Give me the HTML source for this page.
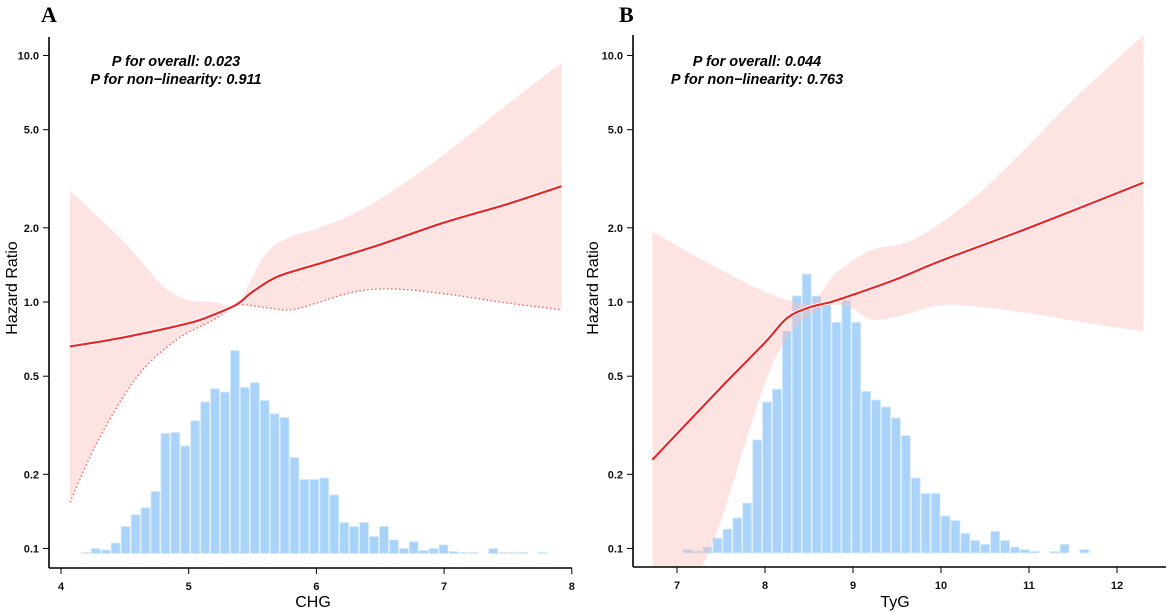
<!DOCTYPE html>
<html><head><meta charset="utf-8">
<style>
html,body{margin:0;padding:0;background:#fff;overflow:hidden;width:1169px;height:614px;}
svg{display:block;overflow:hidden;}
text{font-family:"Liberation Sans",Arial,sans-serif;}
</style></head>
<body>
<svg id="chart" width="1169" height="614" viewBox="0 0 1169 614" xmlns="http://www.w3.org/2000/svg"></svg>
<script>
// ---------- Panel A (CHG) data ----------
const aXTicks = [4,5,6,7,8];
const aYTicks = [0.1,0.2,0.5,1.0,2.0,5.0,10.0];
const aYTickLabels = ["0.1","0.2","0.5","1.0","2.0","5.0","10.0"];
const aHistStart = 4.156;
const aHistWidth = 0.0778;
const aCounts = [1,5,3.5,10.5,27,38.7,45.8,62,120,121,107.6,132.7,151.5,164.8,161.3,203,166,171,153,139.7,136,96,74,74,75.5,58.7,31,27,31,17,27,13.7,5,11.7,3,5,8.6,2,1,1,0,5,1,1,1,0,1];
const aLineX = [4.07,4.5,5.0,5.2,5.38,5.5,5.7,6.0,6.5,7.0,7.5,7.92];
const aLineHR = [0.66,0.72,0.82,0.89,0.98,1.1,1.27,1.42,1.71,2.1,2.5,2.95];
const aUpX = [4.07,4.5,4.8,5.0,5.2,5.38,5.6,5.8,6.0,6.3,6.6,7.0,7.5,7.92];
const aUpHR = [2.83,1.74,1.16,1.02,1.0,0.99,1.56,1.84,1.98,2.29,2.83,3.96,6.36,9.35];
const aLoX = [4.07,4.3,4.6,4.9,5.2,5.38,5.6,5.8,6.0,6.3,6.6,7.0,7.5,7.92];
const aLoHR = [0.154,0.28,0.5,0.7,0.85,0.97,0.95,0.93,0.99,1.1,1.13,1.08,0.99,0.93];

// ---------- Panel B (TyG) data ----------
const bXTicks = [7,8,9,10,11,12];
const bYTicks = [0.1,0.2,0.5,1.0,2.0,5.0,10.0];
const bYTickLabels = ["0.1","0.2","0.5","1.0","2.0","5.0","10.0"];
const bHistStart = 7.065;
const bHistWidth = 0.1127;
const bCounts = [3.5,2,6,15,24,35,50,113,151,164,222,257,279,257,248.6,230.6,252.5,230.6,161.7,153,146,135,117.4,75,59.5,59.5,37,32.5,19.5,12.5,8.6,21.5,12.5,6,3.5,1.5,0,1.5,8.6,0,3.5];
const bLineX = [6.72,7.5,8.0,8.25,8.5,8.75,9.0,9.5,10.0,11.0,12.3];
const bLineHR = [0.229,0.45,0.685,0.86,0.95,1.0,1.07,1.24,1.47,2.0,3.05];
const bUpX = [6.72,7.5,8.0,8.3,8.55,8.8,9.2,9.6,10.0,10.5,11.0,11.5,12.3];
const bUpHR = [1.93,1.35,1.1,1.01,1.0,1.3,1.62,1.74,2.09,2.9,4.33,6.6,12.1];
const bLoX = [6.72,7.0,7.27,7.5,7.75,8.0,8.25,8.5,8.75,9.0,9.2,9.5,10.0,10.5,11.0,11.5,12.3];
const bLoHR = [0.075,0.078,0.084,0.13,0.25,0.47,0.72,0.88,0.97,0.94,0.85,0.87,0.97,0.95,0.9,0.84,0.76];

const NS = "http://www.w3.org/2000/svg";
const svg = document.getElementById("chart");
function mk(tag, attrs, parent){
  const e = document.createElementNS(NS, tag);
  for (const k in attrs) e.setAttribute(k, attrs[k]);
  (parent||svg).appendChild(e);
  return e;
}
function smoothPath(pts){
  if (pts.length < 2) return "";
  let d = "M" + pts[0][0] + "," + pts[0][1];
  for (let i = 0; i < pts.length - 1; i++){
    const p0 = pts[i-1] || pts[i], p1 = pts[i], p2 = pts[i+1], p3 = pts[i+2] || p2;
    const c1x = p1[0] + (p2[0]-p0[0])/6, c1y = p1[1] + (p2[1]-p0[1])/6;
    const c2x = p2[0] - (p3[0]-p1[0])/6, c2y = p2[1] - (p3[1]-p1[1])/6;
    d += " C" + c1x + "," + c1y + " " + c2x + "," + c2y + " " + p2[0] + "," + p2[1];
  }
  return d;
}

function panel(cfg){
  const g = mk("g", {});
  
  
  const xs = v => cfg.x0px + (v - cfg.x0) * cfg.pxPerUnit;
  const ys = hr => cfg.y1px - Math.log10(hr) * cfg.pxPerDecade;
  const clipId = cfg.name + "-clip";
  const defs = mk("defs", {}, g);
  const cp = mk("clipPath", {id: clipId}, defs);
  mk("rect", {x: cfg.axisX, y: cfg.axisTop, width: cfg.axisRight - cfg.axisX, height: cfg.axisY - cfg.axisTop}, cp);

  const hg = mk("g", {}, g);
  
  
  cfg.counts.forEach((c, i) => {
    if (c <= 0) return;
    const l = xs(cfg.histStart + i * cfg.histWidth);
    const r = xs(cfg.histStart + (i+1) * cfg.histWidth);
    const b = mk("rect", {x: l+0.5, y: cfg.baseY - c, width: r-l-1, height: c, fill: "#a9d3f8", stroke: "#d6ebfc", "stroke-width": 0.8}, hg);
    
    
  });

  const up = cfg.upX.map((x,i)=>[xs(x), ys(cfg.upHR[i])]);
  const lo = cfg.loX.map((x,i)=>[xs(x), ys(cfg.loHR[i])]).reverse();
  const upD = smoothPath(up);
  const loD = smoothPath(lo).replace(/^M/, "L");
  const band = mk("path", {d: upD + " " + loD + " Z", fill: "rgba(250,190,185,0.42)", "clip-path": "url(#"+clipId+")"}, g);
  
  
  if (cfg.dottedLower){
    const dl = mk("path", {d: smoothPath(cfg.loX.map((x,i)=>[xs(x), ys(cfg.loHR[i])])), fill: "none", stroke: "#e8605a", "stroke-width": 1.3, "stroke-dasharray": "1.5,2.5", "clip-path": "url(#"+clipId+")"}, g);
    
    
  }

  const lp = smoothPath(cfg.lineX.map((x,i)=>[xs(x), ys(cfg.lineHR[i])]));
  mk("path", {d: lp, fill: "none", stroke: "#fff", "stroke-width": 4}, g);
  const line = mk("path", {d: lp, fill: "none", stroke: "#e8262a", "stroke-width": 2.2}, g);
  
  

  const ya = mk("line", {x1: cfg.axisX, y1: cfg.axisTop, x2: cfg.axisX, y2: cfg.axisY, stroke: "#000", "stroke-width": 1.6}, g);
  
  
  const xa = mk("line", {x1: cfg.axisX, y1: cfg.axisY, x2: cfg.axisRight, y2: cfg.axisY, stroke: "#000", "stroke-width": 1.6}, g);
  
  

  cfg.yTicks.forEach((v,i) => {
    const y = ys(v);
    mk("line", {x1: cfg.axisX - 6, y1: y, x2: cfg.axisX, y2: y, stroke: "#000", "stroke-width": 1}, g);
    const t = mk("text", {x: cfg.axisX - 10, y: y + 4, "text-anchor": "end", "font-size": 11, "font-weight": "bold", fill: "#111"}, g);
    t.textContent = cfg.yTickLabels[i];
    
    
  });
  cfg.xTicks.forEach(v => {
    const x = xs(v);
    mk("line", {x1: x, y1: cfg.axisY, x2: x, y2: cfg.axisY + 6, stroke: "#000", "stroke-width": 1}, g);
    const t = mk("text", {x: x, y: cfg.axisY + 22, "text-anchor": "middle", "font-size": 11, "font-weight": "bold", fill: "#111"}, g);
    t.textContent = String(v);
    
    
  });

  const yt = mk("text", {x: 0, y: 0, transform: "translate("+cfg.yTitleX+",288) rotate(-90)", "text-anchor": "middle", "font-size": 16, fill: "#000"}, g);
  yt.textContent = "Hazard Ratio";
  
  
  const xt = mk("text", {x: cfg.xTitleX, y: 607, "text-anchor": "middle", "font-size": 16, fill: "#000"}, g);
  xt.textContent = cfg.xTitle;
  
  

  const l1 = mk("text", {x: cfg.annX, y: 66, "text-anchor": "middle", "font-size": 14.5, "font-weight": "bold", "font-style": "italic", fill: "#000"}, g);
  l1.textContent = cfg.pOverall;
  
  
  const l2 = mk("text", {x: cfg.annX, y: 84, "text-anchor": "middle", "font-size": 14.5, "font-weight": "bold", "font-style": "italic", fill: "#000"}, g);
  l2.textContent = cfg.pNonlin;
  
  

  const pl = mk("text", {x: cfg.letterX, y: 22, "font-size": 22, "font-weight": "bold", fill: "#000", style: "font-family:'Liberation Serif',serif"}, g);
  pl.textContent = cfg.letter;
  
  
}

panel({name: "panel-a-chg", x0: 4, x0px: 61, pxPerUnit: 127.7, y1px: 302, pxPerDecade: 246.5,
  axisX: 49, axisTop: 37, axisY: 568, axisRight: 572, baseY: 553.5,
  counts: aCounts, histStart: aHistStart, histWidth: aHistWidth,
  lineX: aLineX, lineHR: aLineHR, upX: aUpX, upHR: aUpHR, loX: aLoX, loHR: aLoHR, dottedLower: true,
  xTicks: aXTicks, yTicks: aYTicks, yTickLabels: aYTickLabels,
  yTitleX: 17, xTitleX: 313, xTitle: "CHG", annX: 176,
  pOverall: "P for overall: 0.023", pNonlin: "P for non\u2212linearity: 0.911", letter: "A", letterX: 41});

panel({name: "panel-b-tyg", x0: 7, x0px: 677, pxPerUnit: 88, y1px: 302, pxPerDecade: 246.5,
  axisX: 633, axisTop: 35, axisY: 567, axisRight: 1166, baseY: 553,
  counts: bCounts, histStart: bHistStart, histWidth: bHistWidth,
  lineX: bLineX, lineHR: bLineHR, upX: bUpX, upHR: bUpHR, loX: bLoX, loHR: bLoHR, dottedLower: false,
  xTicks: bXTicks, yTicks: bYTicks, yTickLabels: bYTickLabels,
  yTitleX: 598, xTitleX: 895, xTitle: "TyG", annX: 757,
  pOverall: "P for overall: 0.044", pNonlin: "P for non\u2212linearity: 0.763", letter: "B", letterX: 619});
</script>
</body></html>
